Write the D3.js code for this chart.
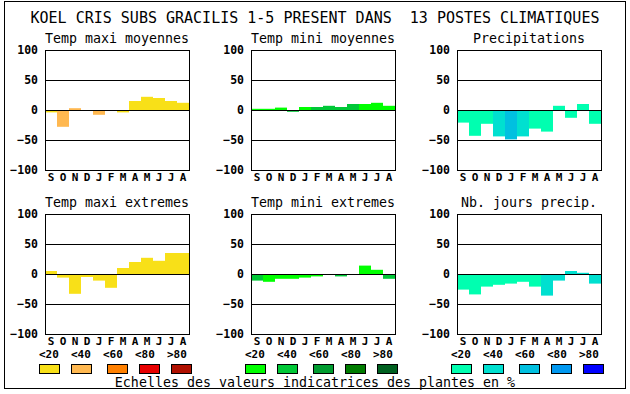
<!DOCTYPE html>
<html>
<head>
<meta charset="utf-8">
<script src="https://cdn.jsdelivr.net/npm/d3@7"></script>
<style>
  body { margin: 0; background: #fff; }
  text { font-family: "DejaVu Sans Mono", monospace; white-space: pre; }
</style>
</head>
<body>
<div id="chart"></div>
<script>
// months, september to august
let months = ["S","O","N","D","J","F","M","A","M","J","J","A"]
let yTicks = [-100, -50, 0, 50, 100]

// values per panel, and the colour class (0..4) of each bar
let maxiMoy = [-4,-28,3,0,-8,0,-4,15,22,20,15,12]
let maxiMoyCls = [0,1,1,0,1,0,0,0,0,0,0,0]
let miniMoy = [2,2,4,-3,5,5,7,5,10,10,12,7]
let miniMoyCls = [0,0,0,1,0,1,1,1,1,0,0,0]
let precip = [-21,-43,-23,-44,-49,-44,-31,-36,7,-13,10,-23]
let precipCls = [0,0,0,1,2,1,0,0,0,0,0,0]
let maxiExt = [5,-6,-33,-5,-11,-23,10,20,27,22,35,35]
let maxiExtCls = [0,0,0,0,0,0,0,0,0,0,0,0]
let miniExt = [-11,-13,-8,-8,-6,-4,0,-4,0,14,7,-8]
let miniExtCls = [1,0,0,0,0,0,0,1,0,0,0,1]
let joursPrec = [-26,-34,-21,-18,-16,-13,-21,-36,-11,5,2,-16]
let joursPrecCls = [0,0,0,0,0,0,0,1,1,1,1,1]

let classLabels = ["<20","<40","<60","<80",">80"]
let yellows = ["#f8e018","#ffb850","#ff8000","#e80000","#b01000"]
let greens = ["#00ff00","#00c837","#009c30","#007c00","#006020"]
let blues = ["#00ffb0","#00e0d0","#00c0e0","#0098f0","#0000ff"]

let title = "KOEL CRIS SUBS GRACILIS 1-5 PRESENT DANS  13 POSTES CLIMATIQUES"
let footer = "Echelles des valeurs indicatrices des plantes en %"

let panels = [
  {title: "Temp maxi moyennes", values: maxiMoy, cls: maxiMoyCls, colors: yellows, col: 0, row: 0},
  {title: "Temp mini moyennes", values: miniMoy, cls: miniMoyCls, colors: greens, col: 1, row: 0},
  {title: "Precipitations", values: precip, cls: precipCls, colors: blues, col: 2, row: 0},
  {title: "Temp maxi extremes", values: maxiExt, cls: maxiExtCls, colors: yellows, col: 0, row: 1},
  {title: "Temp mini extremes", values: miniExt, cls: miniExtCls, colors: greens, col: 1, row: 1},
  {title: "Nb. jours precip.", values: joursPrec, cls: joursPrecCls, colors: blues, col: 2, row: 1}
]

let width = 630, height = 394
let plotW = 144, plotH = 120
let left0 = 45, top0 = 50, dx = 206, dy = 164

let svg = d3.select("#chart")
  .append("svg")
    .attr("width", width)
    .attr("height", height)

// outer frame
svg.append("rect")
  .attr("x", 4.5).attr("y", 1.5)
  .attr("width", 621).attr("height", 387)
  .attr("fill", "none")
  .attr("stroke", "#000")

svg.append("text")
  .attr("x", 315).attr("y", 23)
  .attr("text-anchor", "middle")
  .style("font-size", "15px")
  .text(title)

let x = d3.scaleBand()
  .domain(d3.range(months.length))
  .range([0, plotW])
let y = d3.scaleLinear()
  .domain([-100, 100])
  .range([plotH, 0])

panels.forEach(p => {
  let g = svg.append("g")
    .attr("transform", "translate(" + (left0 + p.col * dx) + "," + (top0 + p.row * dy) + ")")

  g.append("text")
    .attr("x", plotW / 2).attr("y", -7)
    .attr("text-anchor", "middle")
    .style("font-size", "13.3px")
    .text(p.title)

  // bars
  g.selectAll(".bar")
    .data(p.values)
    .enter()
    .append("rect")
      .attr("x", (d, i) => x(i))
      .attr("y", d => y(Math.max(0, d)))
      .attr("width", x.bandwidth())
      .attr("height", d => Math.abs(y(d) - y(0)))
      .attr("fill", (d, i) => p.colors[p.cls[i]])

  // grid lines at -50, 0, 50
  g.selectAll(".grid")
    .data([-50, 0, 50])
    .enter()
    .append("line")
      .attr("x1", 0).attr("x2", plotW)
      .attr("y1", d => Math.round(y(d)) + 0.5)
      .attr("y2", d => Math.round(y(d)) + 0.5)
      .attr("stroke", "#000")

  g.append("rect")
    .attr("x", 0.5).attr("y", 0.5)
    .attr("width", plotW).attr("height", plotH)
    .attr("fill", "none")
    .attr("stroke", "#000")

  let ya = g.append("g")
    .call(d3.axisLeft(y).tickValues(yTicks).tickSize(0).tickPadding(7))
  ya.select(".domain").remove()
  ya.selectAll("text")
    .style("font-family", "'DejaVu Sans Mono', monospace")
    .style("font-size", "11.5px")
    .style("font-weight", "bold")

  let xa = g.append("g")
    .attr("transform", "translate(0," + plotH + ")")
    .call(d3.axisBottom(x).tickSize(0).tickPadding(3).tickFormat(i => months[i]))
  xa.select(".domain").remove()
  xa.selectAll("text")
    .style("font-family", "'DejaVu Sans Mono', monospace")
    .style("font-size", "11px")
    .style("font-weight", "bold")
})

// legends
let swatchOff = [0, 32, 68, 100, 132]
let legendSets = [yellows, greens, blues]
legendSets.forEach((colors, k) => {
  let g = svg.append("g")
    .attr("transform", "translate(" + (39 + k * dx) + ",0)")
  g.selectAll(".lab")
    .data(classLabels)
    .enter()
    .append("text")
      .attr("x", (d, i) => i * 32)
      .attr("y", 358)
      .style("font-size", "11px")
      .style("font-weight", "bold")
      .text(d => d)
  g.selectAll(".sw")
    .data(colors)
    .enter()
    .append("rect")
      .attr("x", (d, i) => swatchOff[i] + 0.5)
      .attr("y", 364.5)
      .attr("width", 20)
      .attr("height", 9)
      .attr("fill", d => d)
      .attr("stroke", "#000")
})

svg.append("text")
  .attr("x", 315).attr("y", 387)
  .attr("text-anchor", "middle")
  .style("font-size", "13.3px")
  .text(footer)
</script>
</body>
</html>
